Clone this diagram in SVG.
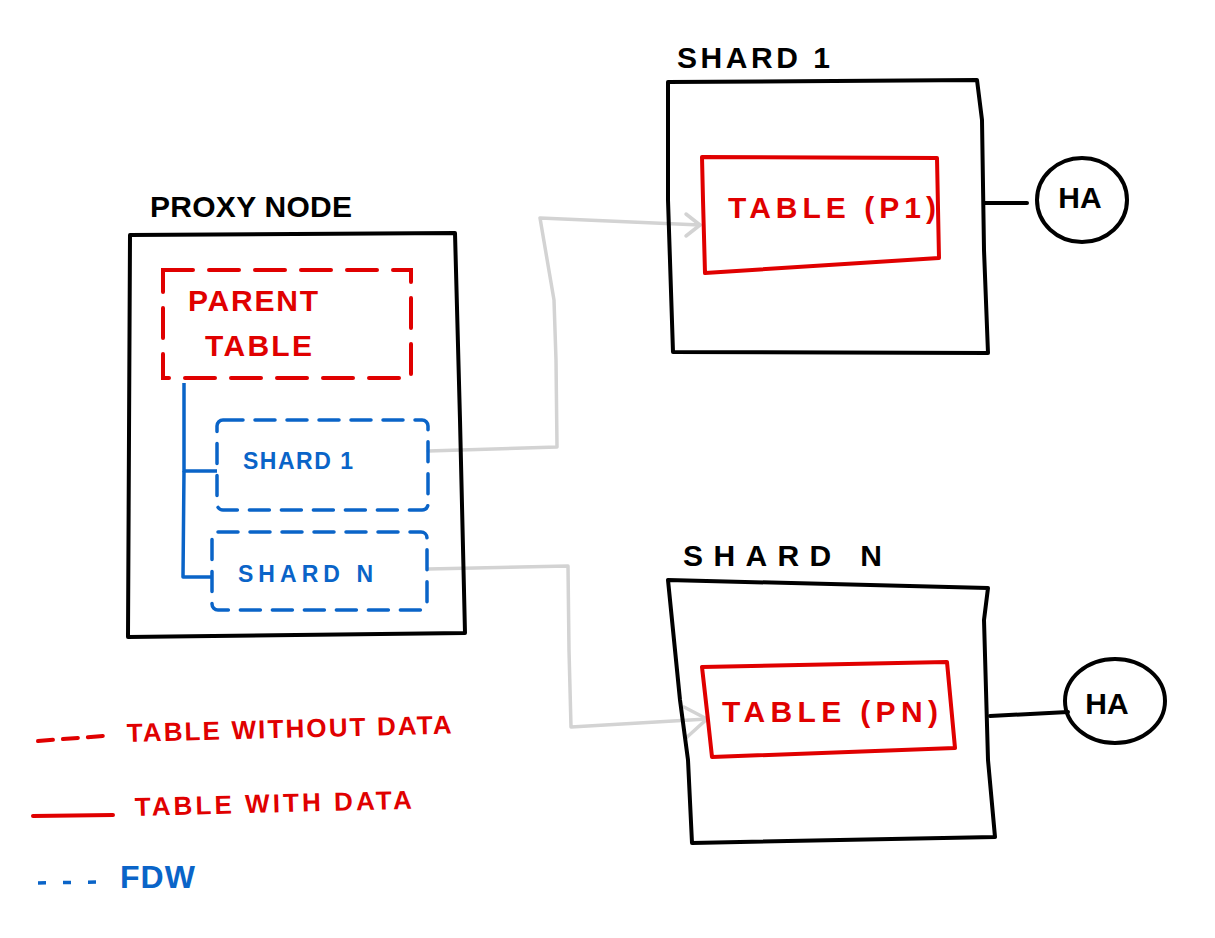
<svg xmlns="http://www.w3.org/2000/svg" width="1215" height="938" viewBox="0 0 1215 938">
<style>
.blk{fill:none;stroke:#000;stroke-width:4;stroke-linejoin:round;stroke-linecap:round}
.red{fill:none;stroke:#e00000;stroke-width:4;stroke-linejoin:round;stroke-linecap:round}
.redd{fill:none;stroke:#e00000;stroke-width:4;stroke-dasharray:30 16;stroke-linecap:round}
.blud{fill:none;stroke:#0a64c8;stroke-width:3.5;stroke-dasharray:20 12;stroke-linecap:round}
.blu{fill:none;stroke:#0a64c8;stroke-width:3.5;stroke-linejoin:round}
.gry{fill:none;stroke:#d3d3d3;stroke-width:3.5;stroke-linejoin:round;stroke-linecap:round}
text{font-family:"Liberation Sans",Arial,sans-serif;font-weight:bold}
.tb{fill:#000;font-size:30px}
.tr{fill:#e00000;font-size:30px}
.tl{fill:#e00000;font-size:26px}
.tbl{fill:#0a64c8;font-size:23px}
</style>
<g id="connectors">
<polyline class="gry" points="428,451 557,447 556,360 554,300 540,218 700,225"/>
<polyline class="gry" points="686,214 700,225 686,236"/>
<polyline class="gry" points="428,569 568,566 569,650 571,727 707,719"/>
<polyline class="gry" points="684,707 707,719 686,738"/>
<polyline class="blu" points="184,383 184,471 217,471"/>
<polyline class="blu" points="184,471 183,577 212,577"/>
<polyline class="blk" points="985,203 1027,203"/>
<polyline class="blk" points="990,716 1068,712"/>
</g>
<g id="proxy-node">
<polygon class="blk" points="130,235 455,233 460,420 465,633 128,637"/>
<text class="tb" x="150" y="217" textLength="202">PROXY NODE</text>
</g>
<g id="parent-table">
<rect class="redd" x="163" y="270" width="248" height="108"/>
<text class="tr" x="188" y="311" textLength="130">PARENT</text>
<text class="tr" x="205" y="356" textLength="107">TABLE</text>
</g>
<g id="fdw-shard-1">
<rect class="blud" x="217" y="420" width="211" height="90" rx="6"/>
<text class="tbl" x="243" y="469" textLength="110">SHARD 1</text>
</g>
<g id="fdw-shard-n">
<rect class="blud" x="212" y="532" width="215" height="78" rx="6"/>
<text class="tbl" x="238" y="582" textLength="135">SHARD N</text>
</g>
<g id="shard-1">
<polygon class="blk" points="668,82 977,80 982,120 984,250 988,353 673,352 668,200"/>
<text class="tb" x="677" y="68" textLength="153">SHARD 1</text>
</g>
<g id="table-p1">
<polygon class="red" points="702,157 937,158 939,258 705,273 703,200"/>
<text class="tr" x="728" y="218" textLength="208">TABLE (P1)</text>
</g>
<g id="ha-1">
<ellipse class="blk" cx="1082" cy="200" rx="45" ry="42"/>
<text class="tb" x="1080" y="208" text-anchor="middle">HA</text>
</g>
<g id="shard-n">
<polygon class="blk" points="668,580 988,588 984,620 988,760 995,837 692,843 688,760 680,700 672,620"/>
<text class="tb" x="683" y="566" textLength="199">SHARD N</text>
</g>
<g id="table-pn">
<polygon class="red" points="702,667 947,662 955,748 712,757 708,720"/>
<text class="tr" x="722" y="722" textLength="216">TABLE (PN)</text>
</g>
<g id="ha-n">
<ellipse class="blk" cx="1115" cy="701" rx="50" ry="42"/>
<text class="tb" x="1107" y="714" text-anchor="middle">HA</text>
</g>
<g id="legend">
<line class="red" x1="38" y1="741" x2="103" y2="736" stroke-dasharray="15 10" stroke-linecap="butt"/>
<text class="tl" x="127" y="742" textLength="325" transform="rotate(-1.5 127 742)">TABLE WITHOUT DATA</text>
<line class="red" x1="33" y1="816" x2="113" y2="815"/>
<text class="tl" x="135" y="816" textLength="277" transform="rotate(-1.5 135 816)">TABLE WITH DATA</text>
<line class="blu" x1="38" y1="883" x2="96" y2="882" stroke-dasharray="8 17"/>
<text class="tl" x="120" y="888" textLength="75" style="fill:#0a64c8;font-size:32px">FDW</text>
</g>
</svg>
